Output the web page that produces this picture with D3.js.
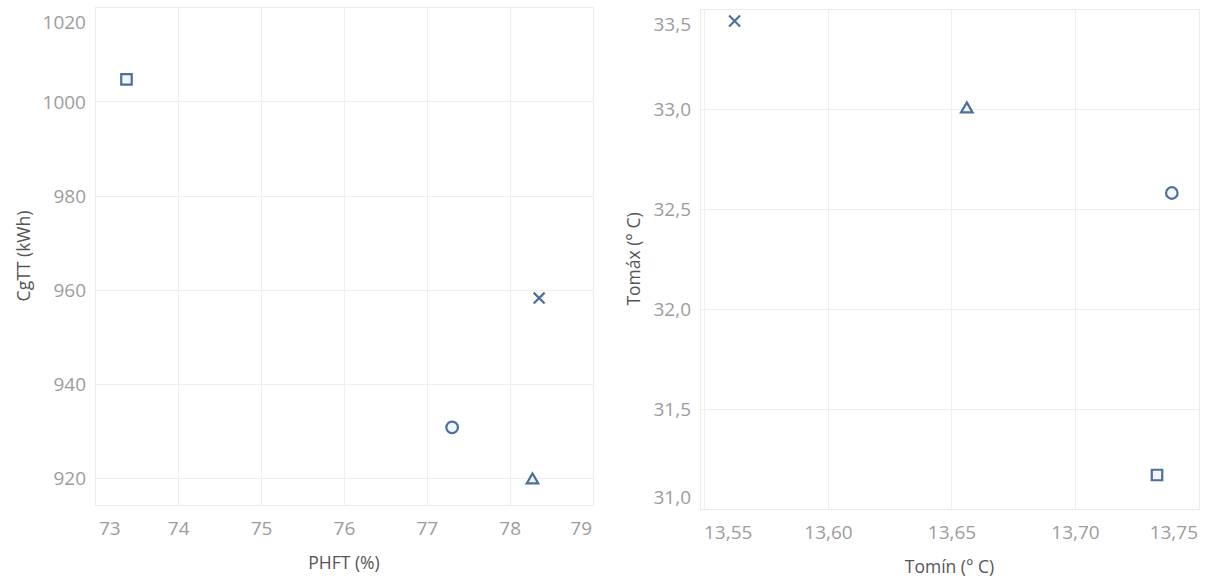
<!DOCTYPE html>
<html>
<head>
<meta charset="utf-8">
<script src="https://cdn.jsdelivr.net/npm/d3@7"></script>
<style>
  html, body { margin: 0; padding: 0; background: #fff; }
  svg { display: block; }
  .tick-label { font-family: "Open Sans", sans-serif; font-size: 19px; fill: #9c9c9c; }
  .axis-title { font-family: "Open Sans", sans-serif; font-size: 17.5px; fill: #555; }
</style>
</head>
<body>
<svg id="chart" width="1210" height="580"></svg>
<script>
// Four groups, each drawn with its own marker shape
const groups = ["G1", "G2", "G3", "G4"];
const shapes = ["square", "cross", "circle", "triangle"];

// Left panel: PHFT (%) vs CgTT (kWh)
const phft = [73.37, 78.35, 77.30, 78.27];
const cgtt = [1004.8, 958.3, 930.8, 919.6];

// Right panel: Tomín (°C) vs Tomáx (°C)
const tomin = [13.733, 13.562, 13.739, 13.656];
const tomax = [31.17, 33.44, 32.58, 33.00];

// Axis ticks
const phftTicks = [73, 74, 75, 76, 77, 78, 79];
const cgttTicks = [920, 940, 960, 980, 1000, 1020];
const tominTicks = [13.55, 13.60, 13.65, 13.70, 13.75];
const tomaxTicks = [31.0, 31.5, 32.0, 32.5, 33.0, 33.5];

const es = d3.formatLocale({ decimal: ",", thousands: ".", grouping: [3], currency: ["", "€"] });

const svg = d3.select("#chart");
const markColor = "#4d6f9c";
const markFill = "#f1f6fb";

const symbolFor = {
  square: d3.symbolSquare,
  cross: d3.symbolX,
  circle: d3.symbolCircle,
  triangle: d3.symbolTriangle2
};
const sizeFor = { square: 110, cross: 80, circle: 105, triangle: 95 };

function panel(cfg) {
  const { x, y, xTicks, yTicks, xFmt, yFmt, xs, ys, xTitle, yTitle, yTitleX } = cfg;
  const [l, r] = x.range();
  const [b, t] = y.range();
  const g = svg.append("g");

  // grid
  g.append("g").selectAll("line.v").data(xTicks).join("line")
    .attr("x1", d => x(d)).attr("x2", d => x(d))
    .attr("y1", t).attr("y2", b)
    .attr("stroke", "#eeeeee").attr("stroke-width", 1).attr("shape-rendering", "crispEdges");
  g.append("g").selectAll("line.h").data(yTicks).join("line")
    .attr("x1", l).attr("x2", r)
    .attr("y1", d => y(d)).attr("y2", d => y(d))
    .attr("stroke", "#eeeeee").attr("stroke-width", 1).attr("shape-rendering", "crispEdges");
  g.append("rect")
    .attr("x", l).attr("y", t).attr("width", r - l).attr("height", b - t)
    .attr("fill", "none").attr("stroke", "#ebebeb").attr("shape-rendering", "crispEdges");

  // y tick labels, kept inside the plot's vertical span
  g.append("g").selectAll("text").data(yTicks).join("text")
    .attr("class", "tick-label")
    .attr("x", l - 9)
    .attr("y", d => Math.max(t + 15, Math.min(b - 12, y(d))))
    .attr("text-anchor", "end").attr("dominant-baseline", "central")
    .text(yFmt);

  // x tick labels, kept inside the plot's horizontal span
  const xl = g.append("g").selectAll("text").data(xTicks).join("text")
    .attr("class", "tick-label")
    .attr("y", b + 23)
    .attr("text-anchor", "middle").attr("dominant-baseline", "central")
    .text(xFmt);
  xl.attr("x", function (d) {
    const w = this.getComputedTextLength();
    return Math.max(l + 4 + w / 2, Math.min(r - 1 - w / 2, x(d)));
  });

  // titles
  g.append("text").attr("class", "axis-title")
    .attr("x", (l + r) / 2).attr("y", b + 57)
    .attr("text-anchor", "middle").attr("dominant-baseline", "central")
    .text(xTitle);
  g.append("text").attr("class", "axis-title")
    .attr("transform", `translate(${yTitleX},${(t + b) / 2}) rotate(-90)`)
    .attr("text-anchor", "middle").attr("dominant-baseline", "central")
    .text(yTitle);

  // markers
  g.append("g").selectAll("path").data(groups).join("path")
    .attr("transform", (d, i) => `translate(${x(xs[i])},${y(ys[i])})`)
    .attr("d", (d, i) => d3.symbol(symbolFor[shapes[i]], sizeFor[shapes[i]])())
    .attr("fill", (d, i) => shapes[i] === "cross" ? "none" : markFill)
    .attr("stroke", markColor)
    .attr("stroke-width", (d, i) => shapes[i] === "cross" ? 2.2 : 2.2)
    .attr("stroke-linejoin", "miter");
}

panel({
  x: d3.scaleLinear().domain([72.99, 79.0]).range([95, 593]),
  y: d3.scaleLinear().domain([914.3, 1020.2]).range([505, 7]),
  xTicks: phftTicks, yTicks: cgttTicks,
  xFmt: d => d3.format("d")(d), yFmt: d => d3.format("d")(d),
  xs: phft, ys: cgtt,
  xTitle: "PHFT (%)", yTitle: "CgTT (kWh)", yTitleX: 23
});

panel({
  x: d3.scaleLinear().domain([13.548, 13.75]).range([700, 1199]),
  y: d3.scaleLinear().domain([31.0, 33.5]).range([509, 9]),
  xTicks: tominTicks, yTicks: tomaxTicks,
  xFmt: es.format(".2f"), yFmt: es.format(".1f"),
  xs: tomin, ys: tomax,
  xTitle: "Tomín (° C)", yTitle: "Tomáx (° C)", yTitleX: 633
});
</script>
</body>
</html>
